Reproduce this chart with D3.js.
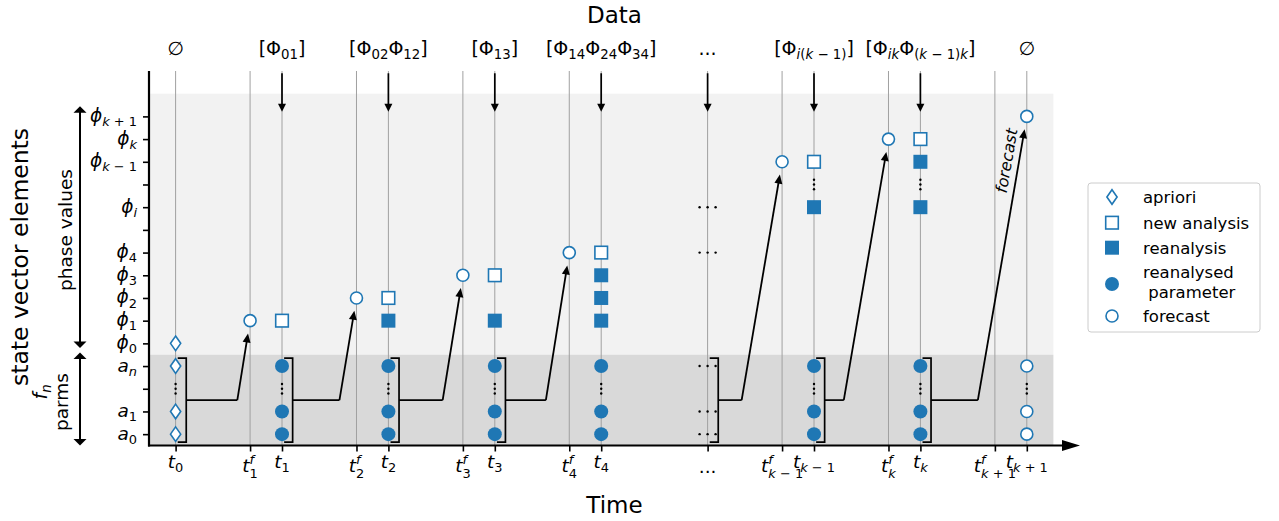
<!DOCTYPE html>
<html><head><meta charset="utf-8">
<script src="https://cdn.jsdelivr.net/npm/d3@7"></script>
<style>
body{margin:0;background:#fff}
svg text{font-family:"DejaVu Sans",sans-serif; white-space:pre}
</style></head><body>
<svg id="c" width="1279" height="521"></svg>
<script>
// ---------------- data ----------------
const timeTicks = [0, 0.7, 1, 1.7, 2, 2.7, 3, 3.7, 4, 5, 5.7, 6, 6.7, 7, 7.7, 8];
const timeLabels = ["t_{0}", "t^{f}_{1}", "t_{1}", "t^{f}_{2}", "t_{2}", "t^{f}_{3}", "t_{3}", "t^{f}_{4}", "t_{4}", "...",
  "t^{f}_{k − 1}", "t_{k − 1}", "t^{f}_{k}", "t_{k}", "t^{f}_{k + 1}", "t_{k + 1}"];
const stateTicks = [0, 1, 2, 3, 4, 5, 6, 7, 8, 9, 10, 11, 12, 13, 14];
const stateLabels = ["a_{0}", "a_{1}", "", "a_{n}", "ϕ_{0}", "ϕ_{1}", "ϕ_{2}", "ϕ_{3}", "ϕ_{4}", "", "ϕ_{i}", "", "ϕ_{k − 1}", "ϕ_{k}", "ϕ_{k + 1}"];
const dataTimes = [0, 1, 2, 3, 4, 5, 6, 7, 8];
const dataLabels = ["∅", "[Φ_{01}]", "[Φ_{02}Φ_{12}]", "[Φ_{13}]", "[Φ_{14}Φ_{24}Φ_{34}]", "...", "[Φ_{i(k − 1)}]", "[Φ_{ik}Φ_{(k − 1)k}]", "∅"];
const dataArrivals = [1, 2, 3, 4, 5, 6, 7];
const apriori = [[0, 0], [0, 1], [0, 3], [0, 4]];
const newAnalysis = [[1, 5], [2, 6], [3, 7], [4, 8], [6, 12], [7, 13]];
const reanalysis = [[2, 5], [3, 5], [4, 5], [4, 6], [4, 7], [6, 10], [7, 10], [7, 12]];
const reanalysedParameter = [[1, 0], [1, 1], [1, 3], [2, 0], [2, 1], [2, 3], [3, 0], [3, 1], [3, 3],
  [4, 0], [4, 1], [4, 3], [6, 0], [6, 1], [6, 3], [7, 0], [7, 1], [7, 3]];
const forecast = [[0.7, 5], [1.7, 6], [2.7, 7], [3.7, 8], [5.7, 12], [6.7, 13], [8, 14], [8, 0], [8, 1], [8, 3]];
const vDots = [[0, 2], [1, 2], [2, 2], [3, 2], [4, 2], [6, 2], [7, 2], [8, 2], [6, 11], [7, 11]];
const hDots = [[5, 0], [5, 1], [5, 3], [5, 8], [5, 10]];
const bracketTimes = [0, 1, 2, 3, 5, 6, 7];
const forecastKnee = [0.58, 1.54, 2.51, 3.48, 5.32, 6.28, 7.54];
const forecastTargets = [[0.7, 5], [1.7, 6], [2.7, 7], [3.7, 8], [5.7, 12], [6.7, 13], [8, 14]];
const legendItems = ["apriori", "new analysis", "reanalysis", "reanalysed\n parameter", "forecast"];
const legendMarkers = ["diamond", "openSquare", "filledSquare", "filledCircle", "openCircle"];

// ---------------- setup ----------------
const BLUE = "#1f77b4";
const svg = d3.select("#c");
const x = d3.scaleLinear().domain([-0.25, 8.5]).range([149, 1080]);
const y = d3.scaleLinear().domain([-0.5, 16]).range([445.5, 71]);

// math-like text renderer
function parseMath(str) {
  const segs = []; let i = 0;
  while (i < str.length) {
    const c = str[i];
    if (c === "_" || c === "^") {
      i++; let content;
      if (str[i] === "{") { const j = str.indexOf("}", i); content = str.slice(i + 1, j); i = j + 1; }
      else { content = str[i]; i++; }
      segs.push({ t: content, kind: c === "_" ? "sub" : "sup" });
    } else {
      let j = i; while (j < str.length && str[j] !== "_" && str[j] !== "^") j++;
      segs.push({ t: str.slice(i, j), kind: "base" }); i = j;
    }
  }
  return segs;
}
function isIt(ch) { return /[a-zα-ωϕ]/i.test(ch) && !/[Φ]/.test(ch); }
function runs(s, math) {
  const out = [];
  for (const ch of s) {
    const it = math && isIt(ch);
    if (out.length && out[out.length - 1].it === it) out[out.length - 1].t += ch;
    else out.push({ t: ch, it });
  }
  return out;
}
function renderMath(text, str, fs) {
  const math = str !== "...";
  const segs = parseMath(str);
  const hasSup = segs.some(s => s.kind === "sup");
  let cur = 0, prevSupLen = 0, prevSup = false;
  segs.forEach(seg => {
    const size = seg.kind === "base" ? fs : fs * 0.7;
    const off = seg.kind === "base" ? 0 : seg.kind === "sub" ? fs * (hasSup ? 0.3 : 0.22) : -fs * 0.42;
    let len = 0;
    runs(seg.t, math).forEach((r, ri) => {
      const ts = text.append("tspan").text(r.t).attr("font-size", size)
        .attr("font-style", r.it ? "italic" : "normal");
      if (ri === 0) {
        if (off !== cur) ts.attr("dy", off - cur);
        cur = off;
        if (seg.kind === "sub" && prevSup) ts.attr("dx", -prevSupLen);
      }
      len += ts.node().getComputedTextLength();
    });
    prevSup = seg.kind === "sup"; prevSupLen = len;
  });
  return text;
}

// ---------------- background regions ----------------
svg.append("rect").attr("x", x(-0.25)).attr("width", x(8.25) - x(-0.25))
  .attr("y", y(15)).attr("height", y(3.5) - y(15)).attr("fill", "#f2f2f2");
svg.append("rect").attr("x", x(-0.25)).attr("width", x(8.25) - x(-0.25))
  .attr("y", y(3.5)).attr("height", y(-0.5) - y(3.5)).attr("fill", "#d9d9d9");

// vertical time lines
svg.append("g").selectAll("line").data(timeTicks).join("line")
  .attr("x1", d => x(d)).attr("x2", d => x(d)).attr("y1", y(-0.5)).attr("y2", y(16))
  .attr("stroke", "#a0a0a0").attr("stroke-width", 1);

// axes ticks
const yAxis = svg.append("g").attr("transform", `translate(${x(-0.25)},0)`)
  .call(d3.axisLeft(y).tickValues(stateTicks).tickFormat("").tickSize(6));
yAxis.select(".domain").remove();
yAxis.selectAll(".tick line").attr("stroke", "#000").attr("stroke-width", 1.6);
const xAxis = svg.append("g").attr("transform", `translate(0,${y(-0.5)})`)
  .call(d3.axisBottom(x).tickValues(timeTicks).tickFormat("").tickSize(6));
xAxis.select(".domain").remove();
xAxis.selectAll(".tick line").attr("stroke", "#000").attr("stroke-width", 1.6);

// spines
svg.append("line").attr("x1", x(-0.25)).attr("x2", x(-0.25)).attr("y1", y(-0.5) + 1).attr("y2", y(16))
  .attr("stroke", "#000").attr("stroke-width", 2.2);
svg.append("line").attr("x1", x(-0.25) - 1).attr("x2", x(8.5) - 16).attr("y1", y(-0.5)).attr("y2", y(-0.5))
  .attr("stroke", "#000").attr("stroke-width", 2.2);
svg.append("path").attr("d", `M${x(8.5)},${y(-0.5)} L${x(8.5) - 18},${y(-0.5) - 5.5} L${x(8.5) - 18},${y(-0.5) + 5.5}Z`)
  .attr("fill", "#000");

// tick labels
stateTicks.forEach((v, i) => {
  if (!stateLabels[i]) return;
  const t = svg.append("text").attr("x", x(-0.25) - 12).attr("y", y(v) + 5.5).attr("text-anchor", "end");
  renderMath(t, stateLabels[i], 18.5);
});
timeTicks.forEach((v, i) => {
  const lab = timeLabels[i];
  const base = lab === "..." ? 473 : (lab.includes("^") ? 472 : 468);
  const t = svg.append("text").attr("x", x(v)).attr("y", base).attr("text-anchor", "middle");
  renderMath(t, lab, 18.5);
});

// data labels and arrows
dataTimes.forEach((v, i) => {
  const t = svg.append("text").attr("x", x(v)).attr("y", 55).attr("text-anchor", "middle");
  renderMath(t, dataLabels[i], 19);
});
function arrow(g, x0, y0, x1, y1, hl, hw, sw) {
  const dx = x1 - x0, dy = y1 - y0, L = Math.hypot(dx, dy), ux = dx / L, uy = dy / L;
  const bx = x1 - ux * hl, by = y1 - uy * hl;
  g.append("line").attr("x1", x0).attr("y1", y0).attr("x2", bx + ux).attr("y2", by + uy)
    .attr("stroke", "#000").attr("stroke-width", sw);
  g.append("path").attr("d", `M${x1},${y1} L${bx - uy * hw / 2},${by + ux * hw / 2} L${bx + uy * hw / 2},${by - ux * hw / 2}Z`)
    .attr("fill", "#000");
}
const arrG = svg.append("g");
dataArrivals.forEach(v => arrow(arrG, x(v), y(15.9), x(v), y(14.2), 8, 8, 1.7));

// brackets and forecast arrows
const brG = svg.append("g");
bracketTimes.forEach((t, i) => {
  brG.append("path")
    .attr("d", `M${x(t + 0.02)},${y(3.35)} H${x(t + 0.1)} V${y(-0.35)} H${x(t + 0.02)}`)
    .attr("fill", "none").attr("stroke", "#000").attr("stroke-width", 1.7);
  brG.append("line").attr("x1", x(t + 0.1)).attr("x2", x(forecastKnee[i]))
    .attr("y1", y(1.5)).attr("y2", y(1.5)).attr("stroke", "#000").attr("stroke-width", 1.7);
  const [tx, ty] = forecastTargets[i];
  const X0 = x(forecastKnee[i]), Y0 = y(1.5), X1 = x(tx), Y1 = y(ty);
  const L = Math.hypot(X1 - X0, Y1 - Y0);
  const ex = X1 - (X1 - X0) / L * 13, ey = Y1 - (Y1 - Y0) / L * 13;
  arrow(brG, X0, Y0, ex, ey, 9, 8, 1.8);
});

// markers
function marker(g, type, cx, cy) {
  const m = g.append("g").attr("transform", `translate(${cx},${cy})`);
  if (type === "diamond") m.append("path").attr("d", "M0,-7.3 L5.1,0 L0,7.3 L-5.1,0Z")
    .attr("fill", "#fff").attr("stroke", BLUE).attr("stroke-width", 1.6);
  else if (type === "openSquare") m.append("rect").attr("x", -6.3).attr("y", -6.3).attr("width", 12.6).attr("height", 12.6)
    .attr("fill", "#fff").attr("stroke", BLUE).attr("stroke-width", 1.6);
  else if (type === "filledSquare") m.append("rect").attr("x", -7).attr("y", -7).attr("width", 14).attr("height", 14)
    .attr("fill", BLUE);
  else if (type === "filledCircle") m.append("circle").attr("r", 7).attr("fill", BLUE);
  else if (type === "openCircle") m.append("circle").attr("r", 6)
    .attr("fill", "#fff").attr("stroke", BLUE).attr("stroke-width", 1.6);
}
const mG = svg.append("g");
apriori.forEach(d => marker(mG, "diamond", x(d[0]), y(d[1])));
newAnalysis.forEach(d => marker(mG, "openSquare", x(d[0]), y(d[1])));
reanalysis.forEach(d => marker(mG, "filledSquare", x(d[0]), y(d[1])));
reanalysedParameter.forEach(d => marker(mG, "filledCircle", x(d[0]), y(d[1])));
forecast.forEach(d => marker(mG, "openCircle", x(d[0]), y(d[1])));

// ellipsis dots
const dG = svg.append("g");
vDots.forEach(d => [-4.8, 0, 4.8].forEach(o =>
  dG.append("circle").attr("cx", x(d[0])).attr("cy", y(d[1]) + o).attr("r", 1.2).attr("fill", "#000")));
hDots.forEach(d => [-8, 0, 8].forEach(o =>
  dG.append("circle").attr("cx", x(d[0]) + o).attr("cy", y(d[1])).attr("r", 1.2).attr("fill", "#000")));

// forecast annotation
svg.append("text").attr("transform", `translate(${x(7.81)},${y(12.05)}) rotate(-80.2)`)
  .attr("text-anchor", "middle").attr("dominant-baseline", "central")
  .attr("font-size", 16).attr("font-style", "italic").text("forecast");

// titles
svg.append("text").attr("x", (x(-0.25) + x(8.5)) / 2).attr("y", 23).attr("text-anchor", "middle")
  .attr("font-size", 23).text("Data");
svg.append("text").attr("x", (x(-0.25) + x(8.5)) / 2).attr("y", 513).attr("text-anchor", "middle")
  .attr("font-size", 23).text("Time");
svg.append("text").attr("transform", `translate(20,257) rotate(-90)`).attr("text-anchor", "middle")
  .attr("dominant-baseline", "central").attr("font-size", 23.5).text("state vector elements");
svg.append("text").attr("transform", `translate(65,230) rotate(-90)`).attr("text-anchor", "middle")
  .attr("dominant-baseline", "central").attr("font-size", 18.5).text("phase values");
svg.append("text").attr("transform", `translate(68,402) rotate(-90)`).attr("text-anchor", "middle")
  .attr("font-size", 18.5).text("parms");
renderMath(svg.append("text").attr("transform", `translate(47,392) rotate(-90)`).attr("text-anchor", "middle"), "f_{n}", 19);

// double arrows on the left
function dblArrow(xx, y0, y1) {
  svg.append("line").attr("x1", xx).attr("x2", xx).attr("y1", y0 + 5).attr("y2", y1 - 5)
    .attr("stroke", "#000").attr("stroke-width", 2);
  svg.append("path").attr("d", `M${xx},${y0} L${xx - 6.5},${y0 + 6.5} L${xx + 6.5},${y0 + 6.5}Z`).attr("fill", "#000");
  svg.append("path").attr("d", `M${xx},${y1} L${xx - 6.5},${y1 - 6.5} L${xx + 6.5},${y1 - 6.5}Z`).attr("fill", "#000");
}
dblArrow(80, y(14.45), y(3.8));
dblArrow(80, y(3.6), y(-0.5));

// legend
const lg = svg.append("g");
lg.append("rect").attr("x", 1088).attr("y", 183).attr("width", 172).attr("height", 149).attr("rx", 3)
  .attr("fill", "#fff").attr("stroke", "#cccccc").attr("stroke-width", 1);
const rowY = [197, 222.7, 247.7, 281.5, 316];
legendItems.forEach((name, i) => {
  marker(lg, legendMarkers[i], 1112, rowY[i] + (i === 3 ? 2.5 : 0));
  const lines = name.split("\n");
  const t = lg.append("text").attr("x", 1143).attr("font-size", 16.5);
  lines.forEach((ln, k) => t.append("tspan").attr("x", 1143)
    .attr("y", rowY[i] + 6 + (k - (lines.length - 1) / 2) * 20).text(ln));
});
</script>
</body></html>
